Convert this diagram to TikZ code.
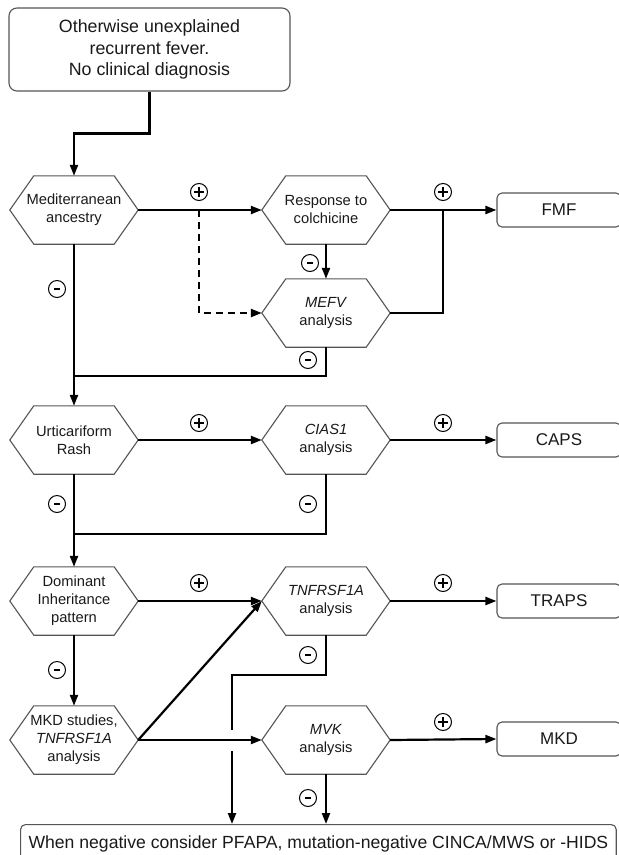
\documentclass[tikz,border=0pt]{standalone}
\usepackage{fontspec}
\setmainfont{Liberation Sans}
\usetikzlibrary{arrows.meta,calc}
\definecolor{txt}{HTML}{1A1A1A}
\definecolor{edge}{HTML}{555555}
\tikzset{
  hexnode/.style={minimum width=128pt, minimum height=68pt, inner sep=0pt, align=center,
    font=\fontsize{14.7}{18}\selectfont, text=txt},
  hexline/.style={draw=edge, line width=1.1pt, line join=miter},
  outbox/.style={draw=edge, line width=1.1pt, rounded corners=5pt, minimum width=124pt,
    minimum height=34pt, inner sep=0pt, font=\fontsize{17}{20}\selectfont, text=txt},
  conn/.style={draw=black, line width=2.2pt},
  arr/.style={conn, -{Triangle[length=11pt,width=8pt]}},
  signbase/.style={circle, draw=black, line width=1pt, minimum size=17pt, inner sep=0pt},
  plussign/.style={signbase, path picture={
      \draw[line width=1.4pt] ($(path picture bounding box.center)+(-5pt,0pt)$) -- +(10pt,0pt);
      \draw[line width=1.4pt] ($(path picture bounding box.center)+(0pt,-5pt)$) -- +(0pt,10pt);}},
  minussign/.style={signbase, path picture={
      \draw[line width=1.6pt] ($(path picture bounding box.center)+(-2.6pt,0pt)$) -- +(5.2pt,0pt);}},
}
\newcommand{\hexat}[3]{%
  \node[hexnode] (#1) at (#2) {#3};
  \draw[hexline] (#1.west) -- ([xshift=24pt]#1.north west) -- ([xshift=-24pt]#1.north east)
    -- (#1.east) -- ([xshift=-24pt]#1.south east) -- ([xshift=24pt]#1.south west) -- cycle;}
\begin{document}
\begin{tikzpicture}[x=1pt,y=-1pt]
\useasboundingbox (0,0) rectangle (619,855);
\fill[white] (0,0) rectangle (619,855);
\clip (0,0) rectangle (619,855);

% start box
\node[draw=edge, line width=1.1pt, rounded corners=8pt, minimum width=281pt, minimum height=83pt,
  inner sep=0pt, align=center, font=\fontsize{17.8}{21.7}\selectfont, text=txt]
  (top) at (149.5,49.5) {Otherwise unexplained\\recurrent fever.\\No clinical diagnosis};

% hexagons
\hexat{med}{74,210}{Mediterranean\\ancestry}
\hexat{resp}{326,210}{Response to\\colchicine}
\hexat{mefv}{326,313}{\textit{MEFV}\\analysis}
\hexat{urt}{74,440}{Urticariform\\Rash}
\hexat{cias}{326,440}{\textit{CIAS1}\\analysis}
\hexat{dom}{74,601}{Dominant\\Inheritance\\pattern}
\hexat{tnf}{326,601}{\textit{TNFRSF1A}\\analysis}
\hexat{mkd}{74,740}{MKD studies,\\\textit{TNFRSF1A}\\analysis}
\hexat{mvk}{326,740}{\textit{MVK}\\analysis}

% outcome boxes
\node[outbox] (fmf) at (559,210) {FMF};
\node[outbox] (caps) at (559,440) {CAPS};
\node[outbox] (traps) at (559,601) {TRAPS};
\node[outbox] (mkdbox) at (559,739) {MKD};
\node[draw=edge, line width=1.1pt, rounded corners=5pt, anchor=north west, minimum height=38pt,
  inner xsep=8pt, inner ysep=0pt, font=\fontsize{17.6}{20}\selectfont, text=txt]
  (bot) at (20,824) {When negative consider PFAPA, mutation-negative CINCA/MWS or -HIDS\hspace{20pt}};

% coordinates
\coordinate (d1) at (199,210);
\coordinate (j1) at (443,210);
\coordinate (m1) at (74,376);
\coordinate (m2) at (74,534);
\coordinate (k1) at (232,675);
\coordinate (k2) at (232,730);
\coordinate (k3) at (232,751);

% connectors
\draw[arr] (top.south) -- ++(0,42) -| (med.north);
\draw[arr] (med.east) -- (resp.west);
\draw[arr, dash pattern=on 7pt off 5pt] (d1) |- (mefv.west);
\draw[arr] (resp.east) -- (fmf.west);
\draw[arr] (resp.south) -- (mefv.north);
\draw[conn] (mefv.east) -| (j1);
\draw[arr] (med.south) -- (urt.north);
\draw[conn] (mefv.south) |- (m1);

\draw[arr] (urt.east) -- (cias.west);
\draw[arr] (cias.east) -- (caps.west);
\draw[arr] (urt.south) -- (dom.north);
\draw[conn] (cias.south) |- (m2);

\draw[arr] (dom.east) -- (tnf.west);
\draw[arr] (tnf.east) -- (traps.west);
\draw[arr] (dom.south) -- (mkd.north);
\draw[arr] (mkd.east) -- (tnf.west);
\draw[arr] (mkd.east) -- (mvk.west);
\draw[arr] (mvk.east) -- (mkdbox.west);
\draw[conn] (tnf.south) |- (k1) -- (k2);
\draw[arr] (k3) -- (k3 |- bot.north);
\draw[arr] (mvk.south) -- (mvk.south |- bot.north);

% signs
\node[plussign] (p1) at (199,192) {};
\node[plussign] (p2) at (443,192) {};
\node[plussign] (p3) at (199,423) {};
\node[plussign] (p4) at (443,423) {};
\node[plussign] (p5) at (199,583) {};
\node[plussign] (p6) at (443,583) {};
\node[plussign] (p7) at (443,722) {};
\node[minussign] (n1) at (57,289) {};
\node[minussign] (n2) at (310,263) {};
\node[minussign] (n3) at (308,360) {};
\node[minussign] (n4) at (57,504) {};
\node[minussign] (n5) at (308,504) {};
\node[minussign] (n6) at (57,670) {};
\node[minussign] (n7) at (308,655) {};
\node[minussign] (n8) at (308,798) {};
\end{tikzpicture}
\end{document}
